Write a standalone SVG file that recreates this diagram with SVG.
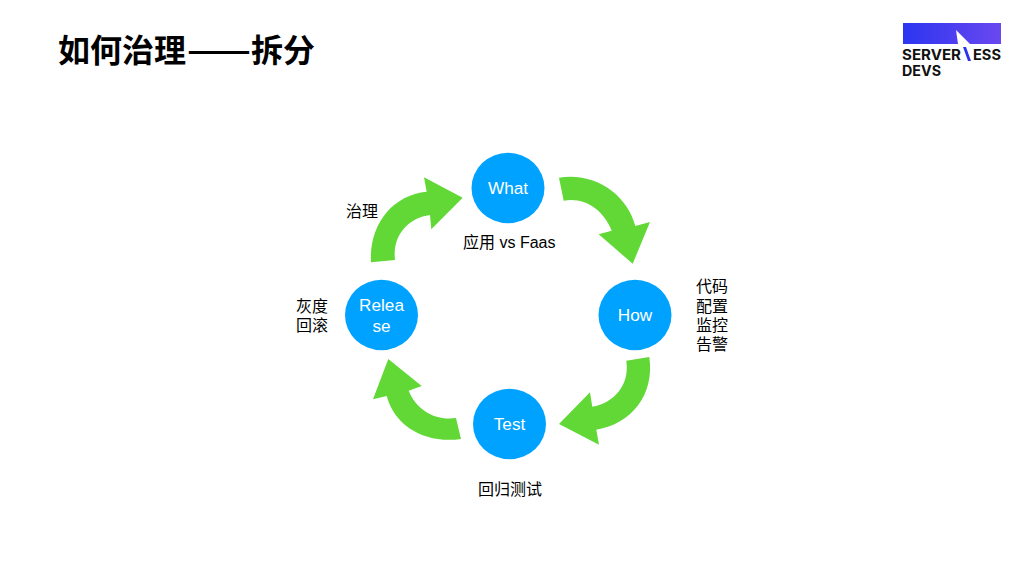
<svg xmlns="http://www.w3.org/2000/svg" width="1024" height="576" viewBox="0 0 1024 576">
<style>
.n{fill:#00a2ff}
.a{fill:#61d836}
.w{font:17.2px "Liberation Sans","Noto Sans CJK SC",sans-serif;fill:#fff;text-anchor:middle}
.l{font:16px "Liberation Sans","Noto Sans CJK SC",sans-serif;fill:#000}
.t{font:bold 32px "Noto Sans CJK SC",sans-serif;fill:#000}
.b{font:bold 14px "Inter","Liberation Sans",sans-serif;fill:#111}
</style>
<defs><linearGradient id="g" x1="0" x2="1" y1="0" y2="0"><stop offset="0" stop-color="#2b35f0"/><stop offset="1" stop-color="#6a48f0"/></linearGradient></defs>
<rect width="1024" height="576" fill="#fff"/>
<text class="t" x="58" y="62">如何治理</text>
<text class="t" x="187" y="62" textLength="64" lengthAdjust="spacingAndGlyphs">——</text>
<text class="t" x="251" y="62">拆分</text>
<g id="logo">
<rect x="903" y="23" width="98" height="21" fill="url(#g)"/>
<polygon points="956,30 970,44 958,44" fill="#fff"/>
<polygon points="963,47 966,47 971,61 968,61" fill="#2b35f0"/>
<text class="b" x="902" y="60" textLength="59" lengthAdjust="spacingAndGlyphs">SERVER</text>
<text class="b" x="973" y="60" textLength="28" lengthAdjust="spacingAndGlyphs">ESS</text>
<text class="b" x="902" y="76" textLength="39" lengthAdjust="spacingAndGlyphs">DEVS</text>
</g>
<g id="connectors">
<path class="a" d="M371 262.3C369 225 392 195 426.7 191.7L424 177.3 462.7 197.7 431.3 229.3 430 215C408 218 392 236 395 260Z"/>
<path class="a" d="M559 177.7C596 172 627 195 635.3 226L650 222 632.7 263.7 598.7 234.3 611.7 230.7C604 211 586 197 563.7 200.7Z"/>
<path class="a" d="M649.3 357C655 395 631 424 596.3 429.7L599 444.7 559 424 590 392.3 592.3 406.7C614 403 630 385 626.3 360.7Z"/>
<path class="a" d="M461 439C426 444 395 427 386.7 396L373 399.3 388.3 359 421.7 386 408.7 390.7C416 409 434 421 456 418Z"/>
</g>
<g id="what"><ellipse class="n" cx="508" cy="188" rx="36.5" ry="35.2"/><text class="w" x="508" y="194">What</text></g>
<g id="how"><ellipse class="n" cx="635" cy="315" rx="36.5" ry="35.2"/><text class="w" x="635" y="321">How</text></g>
<g id="test"><ellipse class="n" cx="509.5" cy="424" rx="36.5" ry="35.2"/><text class="w" x="509.5" y="430">Test</text></g>
<g id="release"><ellipse class="n" cx="381.5" cy="315" rx="36.5" ry="35.2"/><text class="w" x="381.5" y="311">Relea</text><text class="w" x="381.5" y="332">se</text></g>
<g id="labels">
<text class="l" x="463" y="248">应用 vs Faas</text>
<text class="l" x="346" y="217">治理</text>
<text class="l" x="296" y="312">灰度</text>
<text class="l" x="296" y="331">回滚</text>
<text class="l" x="696" y="292">代码</text>
<text class="l" x="696" y="312">配置</text>
<text class="l" x="696" y="331">监控</text>
<text class="l" x="696" y="350">告警</text>
<text class="l" x="478" y="495">回归测试</text>
</g>
</svg>
